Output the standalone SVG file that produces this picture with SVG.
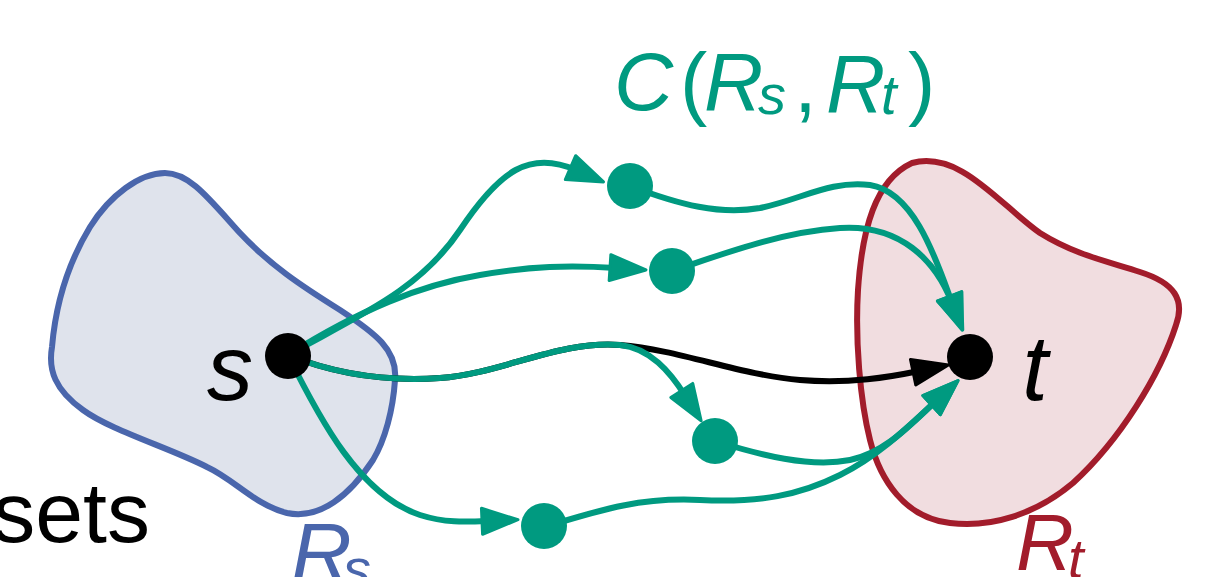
<svg xmlns="http://www.w3.org/2000/svg" width="1227" height="577" viewBox="0 0 1227 577">
<style>
.g{fill:none;stroke:#009a80;stroke-width:6}
.k{fill:none;stroke:#000;stroke-width:6}
.gn{fill:#009a80}
.txt{font-family:"Liberation Sans",Arial,sans-serif;font-style:italic}
</style>
<defs>
<marker id="ag" viewBox="0 0 40 30" refX="8" refY="15" markerWidth="40" markerHeight="30" markerUnits="userSpaceOnUse" orient="auto">
<path d="M2,2 L38,15 L2,28 Z" fill="#009a80" stroke="#009a80" stroke-width="3" stroke-linejoin="round"/>
</marker>
<marker id="ak" viewBox="0 0 40 30" refX="8" refY="15" markerWidth="40" markerHeight="30" markerUnits="userSpaceOnUse" orient="auto">
<path d="M2,2 L38,15 L2,28 Z" fill="#000" stroke="#000" stroke-width="3" stroke-linejoin="round"/>
</marker>
</defs>
<rect width="1227" height="577" fill="#fff"/>
<g id="Rs">
<path d="M165,173 C190,173 210,200 240,233 C270,265 300,285 340,310 C375,333 398,350 395,380 C393,410 385,440 373,460 C350,495 320,520 287,513 C255,505 235,480 207,467 C170,448 110,430 83,410 C55,390 48,370 52,347 C56,300 70,260 90,227 C110,195 140,173 165,173 Z" fill="#dfe3ec" stroke="#4a66ac" stroke-width="6"/>
</g>
<g id="Rt">
<path d="M912,163 C960,150 1000,205 1040,233 C1075,255 1110,262 1140,272 C1175,283 1185,300 1176,325 C1160,375 1120,440 1073,483 C1035,515 990,528 950,523 C905,518 880,480 870,440 C860,400 855,340 858,290 C862,230 875,180 912,163 Z" fill="#f1dde0" stroke="#a21c2b" stroke-width="6"/>
</g>
<g id="connectors">
<path class="k" d="M288,355 C330,372 380,382 440,378 C500,374 560,340 620,345 C680,350 740,375 800,380 C850,384 890,377 919,371" marker-end="url(#ak)"/>
<path class="g" d="M288,355 C360,315 420,290 460,230 C500,170 530,150 576,170" marker-end="url(#ag)"/>
<path class="g" d="M288,355 C360,310 420,285 480,275 C530,266 570,265 616,268" marker-end="url(#ag)"/>
<path class="g" d="M288,355 C330,372 380,382 440,378 C500,374 560,340 620,345 C650,348 670,372 685,395.5" marker-end="url(#ag)"/>
<path class="g" d="M288,355 C320,420 360,495 420,515 C445,523 465,522 488,521" marker-end="url(#ag)"/>
<path class="g" d="M630,186 C680,205 720,215 760,208 C800,200 830,180 870,185 C915,192 937,262 951.7,302" marker-end="url(#ag)"/>
<path class="g" d="M672,271 C720,255 780,232 840,228 C900,224 935,260 951.7,302" marker-end="url(#ag)"/>
<path class="g" d="M715,441 C760,455 810,468 850,460 C885,453 910,425 936,401" marker-end="url(#ag)"/>
<path class="g" d="M544,527 C600,510 640,497 700,500 C760,503 800,495 840,475 C880,455 910,425 936,401" marker-end="url(#ag)"/>
</g>
<g id="s">
<circle cx="288" cy="356" r="23" fill="#000"/>
<text class="txt" x="230" y="400" font-size="92" text-anchor="middle" fill="#000">s</text>
</g>
<g id="t">
<circle cx="970" cy="357" r="23" fill="#000"/>
<text class="txt" x="1035" y="400" font-size="92" text-anchor="middle" fill="#000">t</text>
</g>
<g id="c1"><circle class="gn" cx="630" cy="186" r="23"/></g>
<g id="c2"><circle class="gn" cx="672" cy="271" r="23"/></g>
<g id="c3"><circle class="gn" cx="715" cy="441" r="23"/></g>
<g id="c4"><circle class="gn" cx="544" cy="526" r="23"/></g>
<g id="label-C" fill="#009a80">
<text class="txt" y="110" font-size="82"><tspan x="614">C</tspan><tspan x="680" font-style="normal" font-weight="300">(</tspan><tspan x="704">R</tspan><tspan x="758" y="114" font-size="56">s</tspan><tspan x="794" y="112" font-style="normal">,</tspan><tspan x="826">R</tspan><tspan x="881" y="114" font-size="56">t</tspan><tspan x="908" y="110" font-style="normal">)</tspan></text>
</g>
<g id="label-Rs" fill="#4a66ac">
<text class="txt" y="582" font-size="84"><tspan x="291">R</tspan><tspan x="343" y="588" font-size="56">s</tspan></text>
</g>
<g id="label-Rt" fill="#a21c2b">
<text class="txt" y="570" font-size="80"><tspan x="1016">R</tspan><tspan x="1068" y="578" font-size="56">t</tspan></text>
</g>
<text x="150" y="542" font-size="86" text-anchor="end" font-family="'Liberation Sans',Arial,sans-serif" fill="#000">sets</text>
</svg>
